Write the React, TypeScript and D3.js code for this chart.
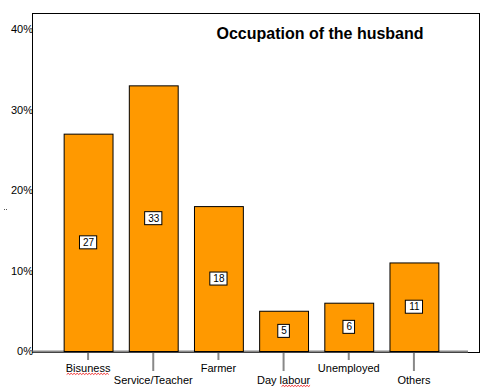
import * as d3 from "d3";

const categories = ["Bisuness", "Service/Teacher", "Farmer", "Day labour", "Unemployed", "Others"];
const percents = [27, 33, 18, 5, 6, 11];
const yTicks = [0, 10, 20, 30, 40];
const misspelled = ["Bisuness", "Day labour"];

const FONT = "Arial, 'Liberation Sans', sans-serif";

// wavy red underline like a spell-checker squiggle
function squiggle(x0: number, x1: number, y: number) {
  let d = `M${x0},${y}`;
  let up = true;
  for (let x = x0 + 1.5; x <= x1; x += 1.5) {
    d += ` L${x},${up ? y - 1.2 : y}`;
    up = !up;
  }
  return d;
}

export default function App() {
  const frame = { left: 32, top: 13, right: 479, bottom: 352 };

  const x = d3.scaleBand<string>().domain(categories).range([55.5, 446.5]).paddingInner(0.25).paddingOuter(0.125);
  const y = d3.scaleLinear().domain([0, 40]).range([351, 29]);

  return (
    <svg width={491} height={391} style={{ position: "absolute", left: 0, top: 0, background: "#fff" }} fontFamily={FONT}>
      <rect
        x={frame.left + 0.5}
        y={frame.top + 0.5}
        width={frame.right - frame.left}
        height={frame.bottom - frame.top}
        fill="none"
        stroke="#000"
      />
      <line x1={frame.left} x2={468} y1={y(0) + 0.5} y2={y(0) + 0.5} stroke="#888" strokeWidth={2} />

      {yTicks.map((t) => (
        <text key={t} x={33} y={y(t) + 4} textAnchor="end" fontSize={11} fill="#000">
          {t}%
        </text>
      ))}
      <line x1={4} x2={8} y1={209.5} y2={209.5} stroke="#555" strokeWidth={1} strokeDasharray="1,1" />

      <text x={320} y={38.5} textAnchor="middle" fontSize={16} fontWeight="bold" fill="#000">
        Occupation of the husband
      </text>

      {categories.map((c, i) => {
        const bx = x(c)!;
        const bw = x.bandwidth();
        const top = y(percents[i]);
        const mid = (top + y(0)) / 2;
        const label = String(percents[i]);
        const boxW = label.length * 5.6 + 6;
        return (
          <g key={c}>
            <rect x={bx + 0.5} y={top + 0.5} width={bw} height={y(0) - top} fill="#FF9900" stroke="#000" />
            <rect x={bx + bw / 2 - boxW / 2} y={mid - 6.5} width={boxW} height={13} fill="#fff" stroke="#000" />
            <text x={bx + bw / 2 + 0.5} y={mid + 3.6} textAnchor="middle" fontSize={10} fill="#000">
              {label}
            </text>
          </g>
        );
      })}

      {categories.map((c, i) => {
        const cx = x(c)! + x.bandwidth() / 2;
        const odd = i % 2 === 1;
        const baseY = odd ? 384 : 372;
        const labelW = c.length * 6.1;
        return (
          <g key={"t" + c}>
            <line x1={cx} x2={cx} y1={353} y2={odd ? 371 : 360} stroke="#888" strokeWidth={2} />
            <text x={cx} y={baseY} textAnchor="middle" fontSize={11} fill="#000">
              {c}
            </text>
            {misspelled.includes(c) && (
              <path
                d={
                  c === "Day labour"
                    ? squiggle(cx - 2, cx + labelW / 2 - 4, baseY + 2.5)
                    : squiggle(cx - labelW / 2 + 3, cx + labelW / 2 - 3, baseY + 2.5)
                }
                fill="none"
                stroke="#e00"
                strokeWidth={0.8}
              />
            )}
          </g>
        );
      })}
    </svg>
  );
}
